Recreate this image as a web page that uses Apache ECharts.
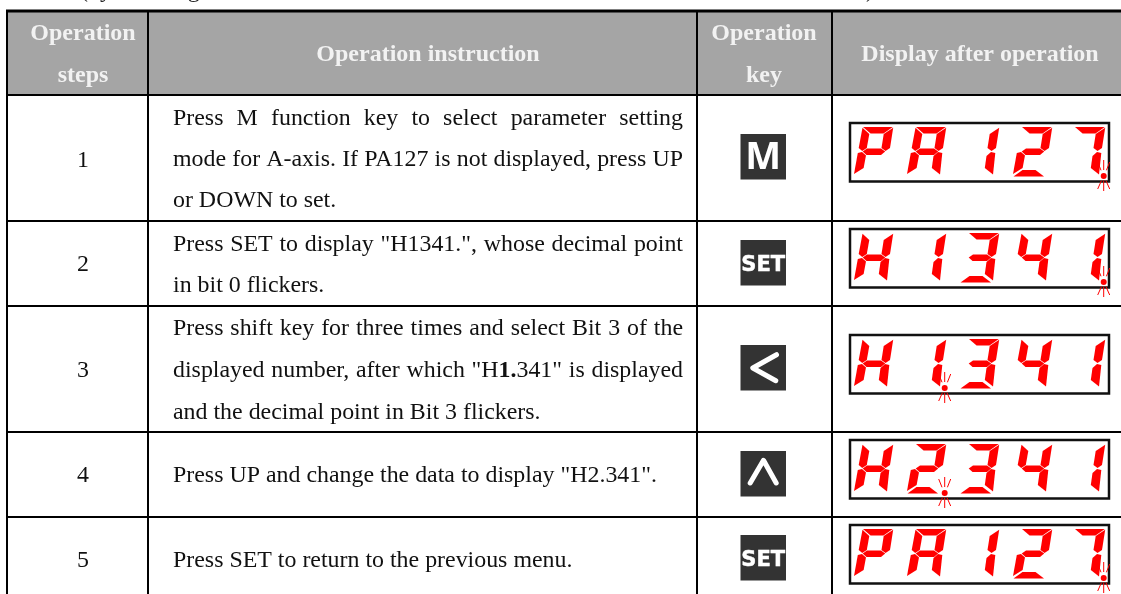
<!DOCTYPE html>
<html>
<head>
<meta charset="utf-8">
<style>html,body{margin:0;padding:0;background:#fff}#c{width:1121px;height:594px}</style>
<script src="https://cdn.jsdelivr.net/npm/echarts@6/dist/echarts.min.js"></script>
</head>
<body>
<div id="c"></div>
<script>
// ---- table content ----
const headerLabels = [['Operation', 'steps'], ['Operation instruction'], ['Operation', 'key'], ['Display after operation']];
const stepLabels = ['1', '2', '3', '4', '5'];
const instructionLines = [
  ['Press M function key to select parameter setting', 'mode for A-axis. If PA127 is not displayed, press UP', 'or DOWN to set.'],
  ['Press SET to display "H1341.", whose decimal point', 'in bit 0 flickers.'],
  ['Press shift key for three times and select Bit 3 of the', 'displayed number, after which "H**1.**341" is displayed', 'and the decimal point in Bit 3 flickers.'],
  ['Press UP and change the data to display "H2.341".'],
  ['Press SET to return to the previous menu.']
];
const justifiedLineCounts = [2, 1, 2, 0, 0];
const keyLabels = ['M', 'SET', '<', '^', 'SET'];
const displayTexts = ['PA127', 'H1341', 'H1341', 'H2341', 'PA127'];
const flickerDigit = [4, 4, 1, 1, 4];
const croppedTopText = [['(by', 80], ['setting', 136], [')', 866]];

// ---- layout (pixel scale of the two hidden axes) ----
const colEdges = [7, 148, 697, 832, 1121];
const rowEdges = [11, 95, 221, 306, 432, 517, 600];
const rowTextY = [[118.5, 159.5, 200.5], [244.5, 285.5], [328.5, 370.5, 412.5], [475.5], [560.5]];
const stepY = [160.5, 264.5, 370.5, 475.5, 560.5];
const headY = {two: [33.5, 75.5], one: [54.5]};
const headCx = [83, 428, 764, 980];
const keyTop = [134, 240, 345, 451, 535];
const boxTop = [123, 229, 335, 440, 525];
const KEY = {x: 740.5, size: 45.5};
const BOX = {x0: 850, x1: 1109, h: 58.5};
const DIGIT = {x: 854, pitch: 53, dy: 4};
const TEXT_X = 173, TEXT_W = 510;
const BODY_SIZE = 23.9, HEAD_SIZE = 24;
const SERIF = '"Liberation Serif","Times New Roman",serif';

// seven segment shapes in digit-local pixels
const SEG = {
  a: [[9, 0], [38.8, 0], [29.5, 6.5], [16.6, 6.5]],
  b: [[39.2, 0.8], [36, 21], [31.5, 24], [27.5, 21], [29.7, 7]],
  c: [[31, 25], [35.3, 26], [33, 47.5], [24.8, 41], [26.5, 29]],
  d: [[0.5, 49.5], [9.5, 43], [22.5, 43], [31, 49.5]],
  e: [[3.8, 26], [8, 25], [12, 28.5], [9.6, 41], [0, 47]],
  f: [[8.5, 0.8], [15.3, 7], [12.8, 21], [8.2, 24], [4.7, 21]],
  g: [[8.7, 24.5], [13, 21.5], [27, 21.5], [31.2, 24.5], [27, 28], [12.5, 28]]
};
const GLYPH = {P: 'abefg', A: 'abcefg', H: 'bcefg', 1: 'bc', 2: 'abdeg', 3: 'abcdg', 4: 'bcfg', 7: 'abc'};
const RAYS = [[[0, -16], [0, -6]], [[-6, -14], [-2.7, -5.7]], [[6, -14], [2.7, -5.7]], [[0, 4.5], [0, 15]], [[-6, 13], [-2.2, 4.5]], [[6, 13], [2.2, 4.5]]];

// ---- build text items (word spacing for justified lines) ----
const measureCtx = document.createElement('canvas').getContext('2d');
function runWidth(t, bold) { measureCtx.font = (bold ? 'bold ' : '') + BODY_SIZE + 'px ' + SERIF; return measureCtx.measureText(t).width; }
const textItems = [];
function addText(x, y, text, font, fill, align) { textItems.push({x, y, text, font, fill, align}); }
croppedTopText.forEach(d => addText(d[1], -9.5, d[0], BODY_SIZE + 'px ' + SERIF, '#222', 'left'));
headerLabels.forEach((lines, c) => {
  const ys = lines.length === 2 ? headY.two : headY.one;
  lines.forEach((t, i) => addText(headCx[c], ys[i], t, 'bold ' + HEAD_SIZE + 'px ' + SERIF, '#f2f2f2', 'center'));
});
stepLabels.forEach((t, r) => addText(83, stepY[r], t, BODY_SIZE + 'px ' + SERIF, '#111', 'center'));
instructionLines.forEach((lines, r) => lines.forEach((line, l) => {
  const y = rowTextY[r][l];
  const justify = l < justifiedLineCounts[r];
  const words = line.split(' ');
  if (!justify) {
    let x = TEXT_X;
    line.split('**').forEach((run, k) => {
      addText(x, y, run, (k % 2 ? 'bold ' : '') + BODY_SIZE + 'px ' + SERIF, '#111', 'left');
      x += runWidth(run, k % 2);
    });
    return;
  }
  const wordW = w => w.split('**').reduce((s, run, k) => s + runWidth(run, k % 2), 0);
  const total = words.reduce((s, w) => s + wordW(w), 0);
  const gap = (TEXT_W - total) / (words.length - 1);
  let x = TEXT_X;
  words.forEach(w => {
    let wx = x;
    w.split('**').forEach((run, k) => {
      if (run) addText(wx, y, run, (k % 2 ? 'bold ' : '') + BODY_SIZE + 'px ' + SERIF, '#111', 'left');
      wx += runWidth(run, k % 2);
    });
    x += wordW(w) + gap;
  });
}));

const chart = echarts.init(document.getElementById('c'), null, {renderer: 'canvas'});
const p = (api, x, y) => api.coord([x, y]);
const rectShape = (api, x0, y0, x1, y1) => {
  const a = p(api, x0, y0), b = p(api, x1, y1);
  return {x: a[0], y: a[1], width: b[0] - a[0], height: b[1] - a[1]};
};

chart.setOption({
  animation: false,
  backgroundColor: '#fff',
  tooltip: {show: false},
  grid: {left: 0, right: 0, top: 0, bottom: 0},
  xAxis: {type: 'value', min: 0, max: 1121, show: false},
  yAxis: {type: 'value', min: 0, max: 594, inverse: true, show: false},
  series: [
    { // header band
      type: 'custom', coordinateSystem: 'cartesian2d', silent: true, z: 1, clip: false,
      data: [[0, 0]],
      renderItem: (params, api) => ({type: 'rect', shape: rectShape(api, colEdges[0], rowEdges[0], colEdges[4], rowEdges[1]), style: {fill: '#a5a5a5'}})
    },
    { // rules
      type: 'custom', coordinateSystem: 'cartesian2d', silent: true, z: 2, clip: false,
      data: [[0, 0]],
      renderItem: (params, api) => {
        const children = [];
        rowEdges.slice(0, 6).forEach((y, i) => children.push({type: 'rect', shape: rectShape(api, colEdges[0] - 1, y - (i ? 1 : 1.5), colEdges[4], y + (i ? 1 : 1.5)), style: {fill: '#000'}}));
        colEdges.slice(0, 4).forEach(x => children.push({type: 'rect', shape: rectShape(api, x - 1, rowEdges[0], x + 1, 594), style: {fill: '#000'}}));
        return {type: 'group', children};
      }
    },
    { // text
      type: 'custom', coordinateSystem: 'cartesian2d', silent: true, z: 5, clip: false,
      data: textItems.map(d => [d.x, d.y]),
      renderItem: (params, api) => {
        const d = textItems[params.dataIndex], c = p(api, d.x, d.y);
        return {type: 'text', style: {x: c[0], y: c[1], text: d.text, font: d.font, fill: d.fill, align: d.align, verticalAlign: 'middle'}};
      }
    },
    { // operation keys
      type: 'custom', coordinateSystem: 'cartesian2d', silent: true, z: 4, clip: false,
      data: keyLabels.map((k, i) => [KEY.x, keyTop[i]]),
      renderItem: (params, api) => {
        const k = keyLabels[params.dataIndex], x = KEY.x, y = keyTop[params.dataIndex], s = KEY.size;
        const children = [{type: 'rect', shape: rectShape(api, x, y, x + s, y + s), style: {fill: '#333333'}}];
        const c = p(api, x + s / 2, y + s / 2);
        if (k === '<' || k === '^') {
          const pts = k === '<' ? [[36, 9.7], [12.3, 23], [35.3, 35.7]] : [[9.7, 32], [23, 9.3], [35.7, 32]];
          children.push({type: 'polyline', shape: {points: pts.map(q => p(api, x + q[0], y + q[1]))}, style: {fill: 'none', stroke: '#fff', lineWidth: 5, lineCap: 'round', lineJoin: 'round'}});
        } else if (k === 'M') {
          children.push({type: 'text', style: {x: c[0], y: c[1] + 1, text: k, font: 'bold 38px "Open Sans",sans-serif', fill: '#fff', align: 'center', verticalAlign: 'middle'}});
        } else {
          children.push({type: 'text', style: {x: c[0], y: c[1] + 2.5, text: k, font: 'bold 21px "DejaVu Sans",sans-serif', fill: '#fff', stroke: '#fff', lineWidth: 0.5, align: 'center', verticalAlign: 'middle'}});
        }
        return {type: 'group', children};
      }
    },
    { // seven segment displays
      type: 'custom', coordinateSystem: 'cartesian2d', silent: true, z: 4, clip: false,
      data: displayTexts.map((t, i) => [BOX.x0, boxTop[i]]),
      renderItem: (params, api) => {
        const r = params.dataIndex, top = boxTop[r];
        const children = [{type: 'rect', shape: rectShape(api, BOX.x0, top, BOX.x1, top + BOX.h), style: {fill: '#fff', stroke: '#111', lineWidth: 2.5}}];
        const ox = i => DIGIT.x + i * DIGIT.pitch, oy = top + DIGIT.dy;
        displayTexts[r].split('').forEach((ch, i) => {
          GLYPH[ch].split('').forEach(s => {
            children.push({type: 'polygon', shape: {points: SEG[s].map(q => p(api, ox(i) + q[0], oy + q[1]))}, style: {fill: '#ff0000'}});
          });
        });
        const dx = ox(flickerDigit[r]) + 37.7, dy = top + 53;
        const dc = p(api, dx, dy);
        children.push({type: 'circle', shape: {cx: dc[0], cy: dc[1], r: 3}, style: {fill: '#ff0000'}});
        RAYS.forEach(q => {
          const a = p(api, dx + q[0][0], dy + q[0][1]), b = p(api, dx + q[1][0], dy + q[1][1]);
          children.push({type: 'line', shape: {x1: a[0], y1: a[1], x2: b[0], y2: b[1]}, style: {stroke: '#ff0000', lineWidth: 1}});
        });
        return {type: 'group', children};
      }
    }
  ]
});
</script>
</body>
</html>
